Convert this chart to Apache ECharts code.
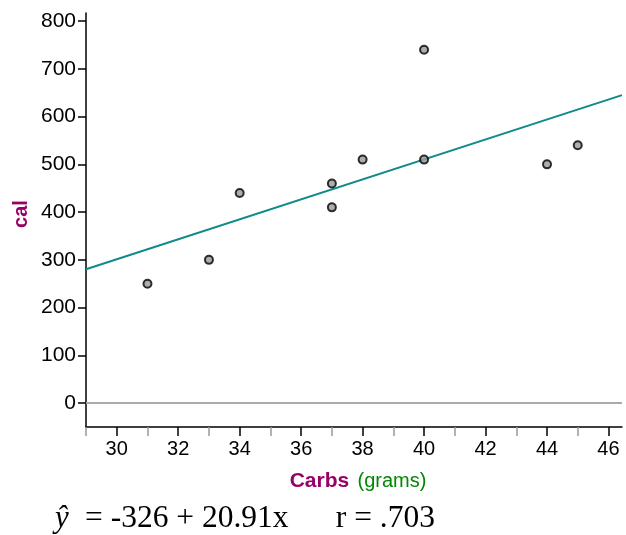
<!DOCTYPE html>
<html>
<head>
<meta charset="utf-8">
<script src="https://cdn.jsdelivr.net/npm/echarts@6/dist/echarts.min.js"></script>
<style>html,body{margin:0;padding:0;background:#fff}#c{width:626px;height:535px}</style>
</head>
<body>
<div id="c"></div>
<script>
// Data
const carbs = [31, 33, 34, 37, 37, 38, 40, 40, 44, 45];
const cal   = [250, 300, 440, 460, 410, 510, 740, 510, 500, 540];
const intercept = -326;
const slope = 20.91;
const xTickLabels = [30, 32, 34, 36, 38, 40, 42, 44, 46];
const xMinorTicks = [29, 31, 33, 35, 37, 39, 41, 43, 45];
const yTickLabels = [0, 100, 200, 300, 400, 500, 600, 700, 800];

const xMin = 29, xMax = 46.44, yMin = -50, yMax = 817;

const points = carbs.map((c, i) => [c, cal[i]]);
const fitLine = [[xMin, intercept + slope * xMin], [xMax, intercept + slope * xMax]];

const chart = echarts.init(document.getElementById('c'), null, {renderer: 'canvas'});
const fontSans = 'Liberation Sans, Arial, sans-serif';
const fontSerif = 'Liberation Serif, Times New Roman, serif';
chart.setOption({
  animation: false,
  grid: {left: 86, right: 4, top: 13, bottom: 108},
  xAxis: [{
    type: 'value', min: xMin, max: xMax,
    axisLine: {show: true, onZero: false, lineStyle: {color: '#000', width: 1.5}},
    axisTick: {show: true, customValues: xTickLabels, length: 9, lineStyle: {color: '#000', width: 1.5}},
    axisLabel: {customValues: xTickLabels, color: '#000', fontSize: 20, fontFamily: fontSans, margin: 12},
    splitLine: {show: false}
  }, {
    type: 'value', min: xMin, max: xMax, position: 'bottom',
    axisLine: {show: false, onZero: false},
    axisTick: {show: true, customValues: xMinorTicks, length: 9, lineStyle: {color: '#999', width: 1.5}},
    axisLabel: {show: false},
    splitLine: {show: false}
  }],
  yAxis: {
    type: 'value', min: yMin, max: yMax,
    axisLine: {show: true, onZero: false, lineStyle: {color: '#000', width: 1.5}},
    axisTick: {show: true, customValues: yTickLabels, length: 8, lineStyle: {color: '#000', width: 1.5}},
    axisLabel: {customValues: yTickLabels, color: '#000', fontSize: 21, fontFamily: fontSans, margin: 10},
    splitLine: {show: false}
  },
  series: [{
    type: 'line', data: fitLine, showSymbol: false, silent: true,
    lineStyle: {color: '#118a8a', width: 2},
    markLine: {
      silent: true, symbol: 'none', label: {show: false},
      lineStyle: {color: '#aaaaaa', width: 2, type: 'solid'},
      data: [{yAxis: 0}]
    },
    z: 2
  }, {
    type: 'scatter', data: points, symbol: 'circle', symbolSize: 8,
    itemStyle: {color: '#999999', borderColor: '#000', borderWidth: 2},
    z: 3
  }],
  graphic: [{
    type: 'text', x: 21, y: 214, rotation: Math.PI / 2,
    style: {
      text: 'cal', fill: '#990066', fontWeight: 'bold', fontSize: 20, fontFamily: fontSans,
      align: 'center', verticalAlign: 'middle'
    }
  }, {
    type: 'text', x: 358, y: 481,
    style: {
      text: '{a|Carbs} {b|(grams)}',
      align: 'center', verticalAlign: 'middle',
      rich: {
        a: {fill: '#990066', fontWeight: 'bold', fontSize: 21, fontFamily: fontSans},
        b: {fill: '#008800', fontSize: 20, fontFamily: fontSans, padding: [0, 0, 0, 5]}
      }
    }
  }, {
    type: 'text', x: 55, y: 503,
    style: {text: 'ŷ', fontFamily: fontSerif, fontStyle: 'italic', fontSize: 31, fill: '#000'}
  }, {
    type: 'text', x: 85, y: 503,
    style: {text: '= -326 + 20.91x      r = .703', fontFamily: fontSerif, fontSize: 31.5, fill: '#000'}
  }]
});
</script>
</body>
</html>
